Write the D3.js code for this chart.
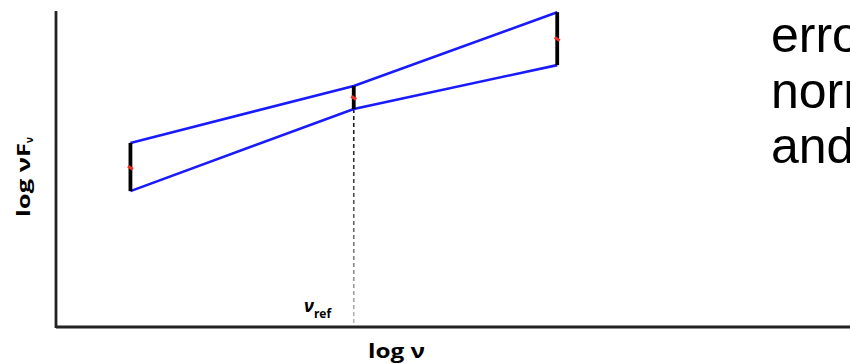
<!DOCTYPE html>
<html>
<head>
<meta charset="utf-8">
<script src="https://cdn.jsdelivr.net/npm/d3@7"></script>
<style>
  body { margin: 0; background: #fff; }
  svg { display: block; }
</style>
</head>
<body>
<div id="chart"></div>
<script>
// log nu positions of the three error bars (left end, pivot, right end)
var logNu   = [0.75, 3.0, 5.05];
// upper / lower edges of each error bar and its centre (log nuF_nu)
var upper   = [4.66, 6.10, 7.97];
var lower   = [3.44, 5.52, 6.63];
var centre  = [4.03, 5.80, 7.29];
var pivotIndex = 1;
var sideText = ["erro", "norm", "and"];

var width = 850, height = 364;
var margin = {top: 11, left: 56, bottom: 37};

var svg = d3.select("#chart").append("svg")
    .attr("width", width)
    .attr("height", height);

var x = d3.scaleLinear().domain([0, 8]).range([margin.left, width]);
var y = d3.scaleLinear().domain([0, 8]).range([height - margin.bottom, margin.top]);

var data = logNu.map(function(d, i) {
  return {x: d, hi: upper[i], lo: lower[i], mid: centre[i]};
});

// gradient for the fading dashed pivot line
var defs = svg.append("defs");
var grad = defs.append("linearGradient")
    .attr("id", "fade")
    .attr("gradientUnits", "userSpaceOnUse")
    .attr("x1", 0).attr("x2", 0)
    .attr("y1", y(lower[pivotIndex])).attr("y2", y(0));
grad.append("stop").attr("offset", "0%").attr("stop-color", "#111");
grad.append("stop").attr("offset", "45%").attr("stop-color", "#555");
grad.append("stop").attr("offset", "100%").attr("stop-color", "#bbb");

// dashed line from pivot down to the axis
svg.append("line")
    .attr("x1", x(logNu[pivotIndex])).attr("x2", x(logNu[pivotIndex]))
    .attr("y1", y(lower[pivotIndex])).attr("y2", y(0))
    .attr("stroke", "url(#fade)")
    .attr("stroke-width", 1.6)
    .attr("stroke-dasharray", "4,3");

// bow-tie lines through the error bar edges
var line = d3.line().x(function(d) { return x(d.x); });
svg.append("path")
    .datum(data)
    .attr("d", line.y(function(d) { return y(d.hi); }))
    .attr("fill", "none")
    .attr("stroke", "#1a1aff")
    .attr("stroke-width", 2.6);
svg.append("path")
    .datum(data)
    .attr("d", line.y(function(d) { return y(d.lo); }))
    .attr("fill", "none")
    .attr("stroke", "#1a1aff")
    .attr("stroke-width", 2.6);

// black error bars
svg.selectAll(".bar")
    .data(data)
    .enter().append("line")
    .attr("class", "bar")
    .attr("x1", function(d) { return x(d.x); })
    .attr("x2", function(d) { return x(d.x); })
    .attr("y1", function(d) { return y(d.hi); })
    .attr("y2", function(d) { return y(d.lo); })
    .attr("stroke", "#000")
    .attr("stroke-width", 3.8);

// red centre marks
svg.selectAll(".dot")
    .data(data)
    .enter().append("line")
    .attr("class", "dot")
    .attr("x1", function(d) { return x(d.x) - 2.5; })
    .attr("x2", function(d) { return x(d.x) + 2.5; })
    .attr("y1", function(d) { return y(d.mid) - 1.5; })
    .attr("y2", function(d) { return y(d.mid) + 1.5; })
    .attr("stroke", "#ee3020")
    .attr("stroke-width", 3);

// axes (no ticks)
svg.append("line")
    .attr("x1", x(0)).attr("x2", x(0))
    .attr("y1", y(8)).attr("y2", y(0) + 1)
    .attr("stroke", "#222").attr("stroke-width", 2.8);
svg.append("line")
    .attr("x1", x(0)).attr("x2", width)
    .attr("y1", y(0)).attr("y2", y(0))
    .attr("stroke", "#222").attr("stroke-width", 2.8);

// axis titles
svg.append("text")
    .attr("x", 368).attr("y", 358)
    .attr("textLength", 57)
    .attr("lengthAdjust", "spacingAndGlyphs")
    .style("font-family", "'Open Sans', sans-serif")
    .style("font-weight", "bold")
    .style("font-size", "20px")
    .text("log ν");

var yl = svg.append("text")
    .attr("transform", "translate(30,217) rotate(-90)")
    .style("font-family", "'Open Sans', sans-serif")
    .style("font-weight", "bold")
    .style("font-size", "17px");
yl.append("tspan").attr("textLength", 74).attr("lengthAdjust", "spacingAndGlyphs").text("log  νF");
yl.append("tspan").attr("dy", 3).style("font-size", "10px").text("ν");

var ref = svg.append("text")
    .attr("x", 304).attr("y", 312)
    .style("font-family", "'Open Sans', sans-serif")
    .style("font-weight", "bold")
    .style("font-style", "italic")
    .style("font-size", "18px");
ref.append("tspan").text("ν");
ref.append("tspan").attr("dy", 6).style("font-size", "12px").style("font-style", "normal").text("ref");

// side text, cut off at the right edge
svg.selectAll(".side")
    .data(sideText)
    .enter().append("text")
    .attr("class", "side")
    .attr("x", 771)
    .attr("y", function(d, i) { return 52 + i * 55.5; })
    .style("font-family", "'Liberation Sans', Arial, sans-serif")
    .style("font-size", "50px")
    .style("fill", "#000")
    .text(function(d) { return d; });
</script>
</body>
</html>
